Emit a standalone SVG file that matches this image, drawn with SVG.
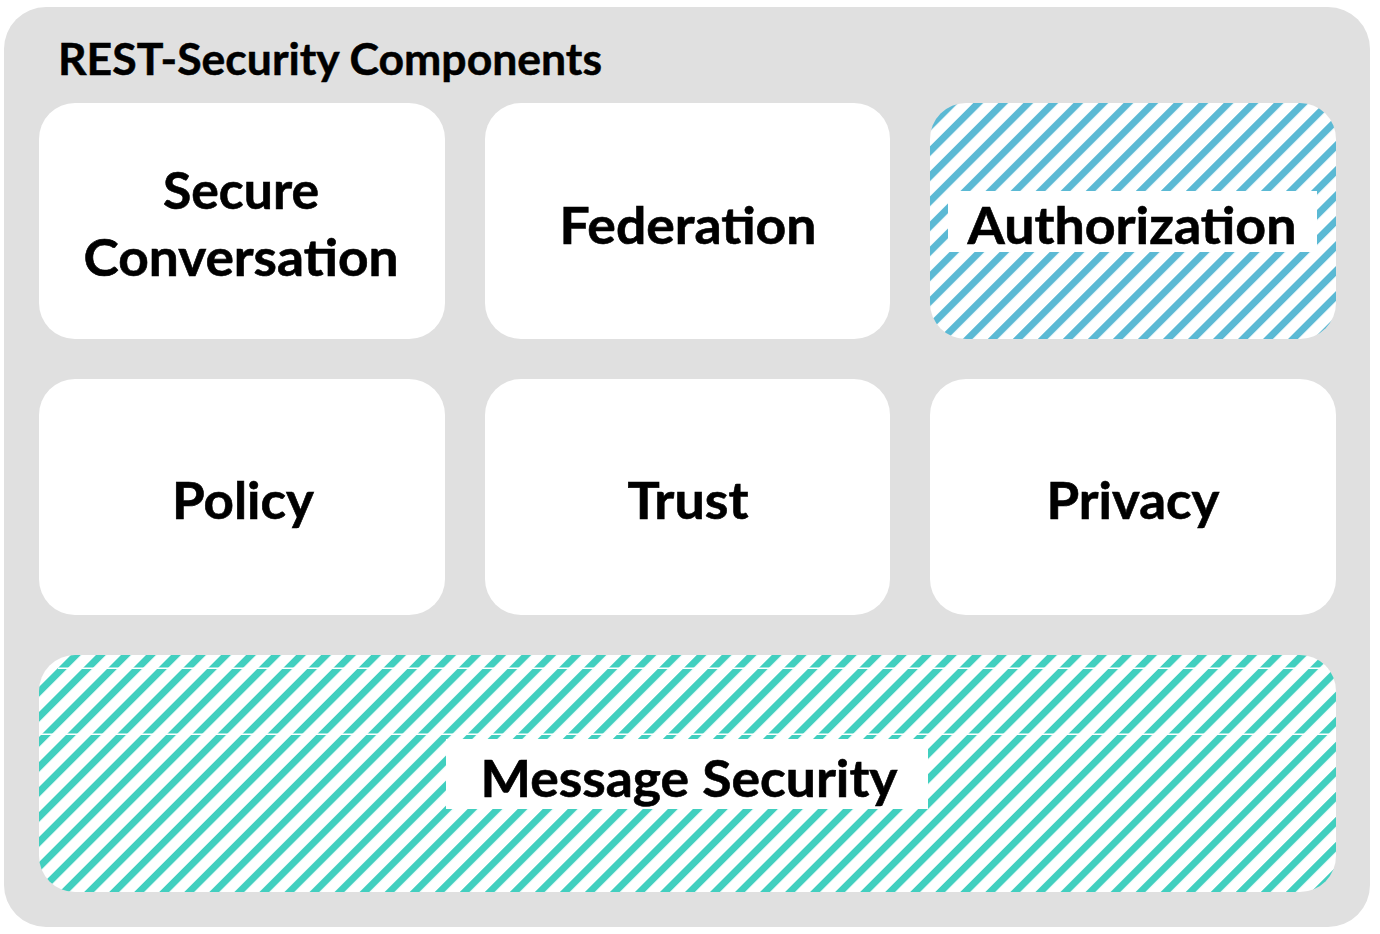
<svg xmlns="http://www.w3.org/2000/svg" width="1380" height="934" viewBox="0 0 1380 934">
  <defs>
    <pattern id="blueStripes" width="17.7" height="17.7" patternUnits="userSpaceOnUse" patternTransform="rotate(45)">
      <rect width="17.7" height="17.7" fill="#ffffff"/>
      <rect width="7" height="17.7" fill="#5bb9d4"/>
    </pattern>
    <pattern id="tealStripes" width="17.7" height="17.7" patternUnits="userSpaceOnUse" patternTransform="rotate(45)">
      <rect width="17.7" height="17.7" fill="#ffffff"/>
      <rect width="7" height="17.7" fill="#41cfbf"/>
    </pattern>
    <clipPath id="msgClip">
      <rect x="39" y="655" width="1297" height="237" rx="36" ry="36"/>
    </clipPath>
  </defs>
  <style>
    .box { fill: #ffffff; }
    .lbl { font-family: Lato, "Open Sans", "Liberation Sans", sans-serif; font-weight: 700; font-size: 51px; fill: #000000; text-anchor: middle; stroke: #000000; stroke-width: 0.6px; }
    .title { font-family: Lato, "Open Sans", "Liberation Sans", sans-serif; font-weight: 700; font-size: 44px; fill: #000000; stroke: #000000; stroke-width: 0.5px; }
  </style>

  <g id="container">
    <rect x="4" y="7" width="1366" height="920" rx="42" ry="42" fill="#e0e0e0"/>
    <text class="title" x="58" y="75" textLength="544" lengthAdjust="spacingAndGlyphs">REST-Security Components</text>
  </g>

  <g id="secure-conversation">
    <rect class="box" x="39" y="103" width="406" height="236" rx="36" ry="36"/>
    <text class="lbl" x="241" y="209" textLength="156" lengthAdjust="spacingAndGlyphs">Secure</text>
    <text class="lbl" x="241" y="276" textLength="315" lengthAdjust="spacingAndGlyphs">Conversation</text>
  </g>

  <g id="federation">
    <rect class="box" x="485" y="103" width="405" height="236" rx="36" ry="36"/>
    <text class="lbl" x="688" y="244" textLength="257" lengthAdjust="spacingAndGlyphs">Federation</text>
  </g>

  <g id="authorization">
    <rect x="930" y="103" width="406" height="236" rx="36" ry="36" fill="url(#blueStripes)"/>
    <rect x="948" y="191" width="369" height="61" fill="#ffffff"/>
    <text class="lbl" x="1132" y="244" textLength="329" lengthAdjust="spacingAndGlyphs">Authorization</text>
  </g>

  <g id="policy">
    <rect class="box" x="39" y="379" width="406" height="236" rx="36" ry="36"/>
    <text class="lbl" x="243" y="519" textLength="142" lengthAdjust="spacingAndGlyphs">Policy</text>
  </g>

  <g id="trust">
    <rect class="box" x="485" y="379" width="405" height="236" rx="36" ry="36"/>
    <text class="lbl" x="688" y="519" textLength="121" lengthAdjust="spacingAndGlyphs">Trust</text>
  </g>

  <g id="privacy">
    <rect class="box" x="930" y="379" width="406" height="236" rx="36" ry="36"/>
    <text class="lbl" x="1133" y="519" textLength="173" lengthAdjust="spacingAndGlyphs">Privacy</text>
  </g>

  <g id="message-security">
    <rect x="39" y="655" width="1297" height="237" rx="36" ry="36" fill="url(#tealStripes)"/>
    <g clip-path="url(#msgClip)" fill="#ffffff">
      <rect x="58" y="667.5" width="1278" height="1.5"/>
      <rect x="39" y="733.5" width="1297" height="1.5"/>
    </g>
    <rect x="446" y="739" width="482" height="70" fill="#ffffff"/>
    <text class="lbl" x="689" y="797" textLength="417" lengthAdjust="spacingAndGlyphs">Message Security</text>
  </g>

  <g id="connectors"/>
</svg>
